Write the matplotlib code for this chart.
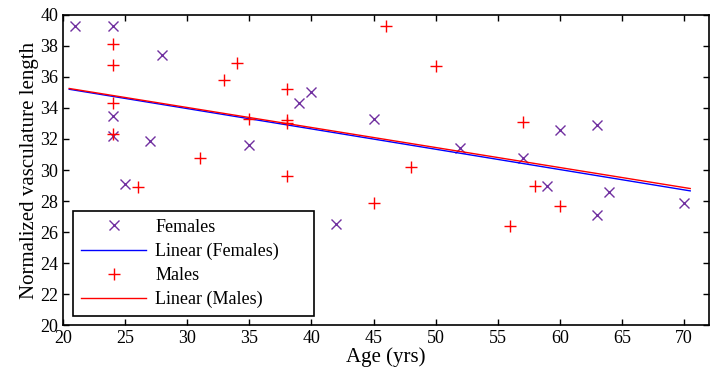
import matplotlib
matplotlib.use("Agg")
import matplotlib.pyplot as plt
import numpy as np

plt.rcParams['font.family'] = ['Liberation Serif', 'DejaVu Serif']

# data
female_age = [21, 24, 24, 24, 25, 27, 28, 35, 39, 40, 42, 45, 52, 57, 59, 60, 63, 63, 64, 70]
female_len = [39.3, 39.3, 33.5, 32.2, 29.1, 31.9, 37.4, 31.6, 34.3, 35.0, 26.5, 33.3,
              31.4, 30.8, 29.0, 32.6, 32.9, 27.1, 28.6, 27.9]
male_age = [24, 24, 24, 24, 26, 31, 33, 34, 35, 38, 38, 38, 38, 45, 46, 48, 50, 56, 57, 58, 60]
male_len = [38.1, 36.8, 34.3, 32.3, 28.9, 30.8, 35.8, 36.9, 33.3, 35.2, 33.2, 33.0, 29.6,
            27.9, 39.3, 30.2, 36.7, 26.4, 33.1, 29.0, 27.7]

# trendline (slope, intercept) as shown on the chart, and its x span
female_fit = [-0.131, 37.89]
male_fit = [-0.129, 37.90]
fit_span = [20.5, 70.5]

fig = plt.figure(figsize=(7.16, 3.72), dpi=100)
ax = fig.add_axes([0.088, 0.126, 0.902, 0.834])

xs = np.array(fit_span)
ax.plot(female_age, female_len, linestyle='none', marker='x', color='#7030A0',
        markersize=7, markeredgewidth=1.0, label='Females')
ax.plot(xs, np.polyval(female_fit, xs), color='#0000FF', lw=1.0, label='Linear (Females)')
ax.plot(male_age, male_len, linestyle='none', marker='+', color='#FF0000',
        markersize=9, markeredgewidth=1.0, label='Males')
ax.plot(xs, np.polyval(male_fit, xs), color='#FF0000', lw=1.0, label='Linear (Males)')

ax.set_xlim(20, 72)
ax.set_ylim(20, 40)
ax.set_xticks(range(20, 71, 5))
ax.set_yticks(range(20, 41, 2))
ax.tick_params(direction='in', top=True, right=True, labelsize=13, length=4, width=1)
for s in ax.spines.values():
    s.set_linewidth(1.2)

ax.set_xlabel('Age (yrs)', fontsize=15, labelpad=0)
ax.set_ylabel('Normalized vasculature length', fontsize=15, labelpad=1)

# legend box sized to the one in the picture
leg = ax.legend(loc='lower left', bbox_to_anchor=(0.0155, 0.029, 0.373, 0.342),
                mode='expand', borderaxespad=0, fontsize=13,
                fancybox=False, edgecolor='black', framealpha=1, borderpad=0.45,
                labelspacing=0.38, handlelength=3.6, handletextpad=0.5)
leg.get_frame().set_linewidth(1.2)

fig.savefig('out.png', dpi=100)
